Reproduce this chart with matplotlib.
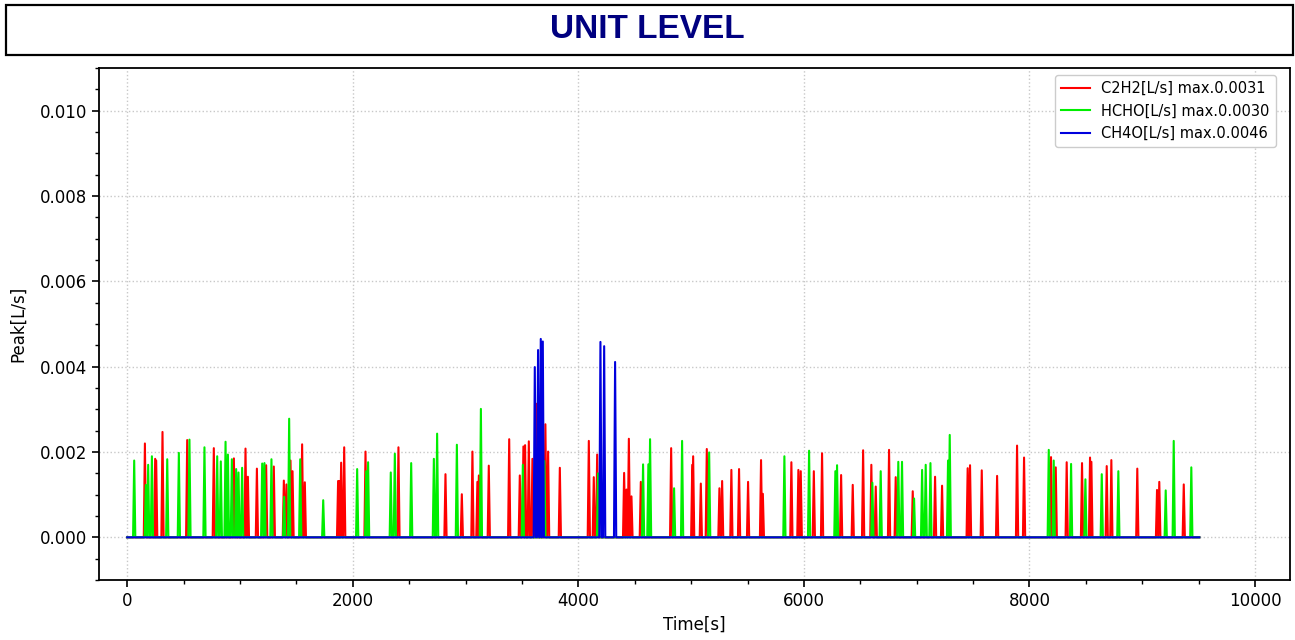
import numpy as np
import matplotlib
matplotlib.use("Agg")
import matplotlib.pyplot as plt
from matplotlib.ticker import AutoMinorLocator, MultipleLocator, FormatStrFormatter
from matplotlib.patches import Rectangle
from matplotlib import font_manager

# Peak events: time [s] and peak flow [L/s]
c2h2_t = [157, 248, 257, 313, 532, 768, 946, 1049, 1070, 1150, 1232, 1300, 1389, 1412,
          1448, 1466, 1551, 1575, 1870, 1880, 1897, 1924, 2113, 2405, 2822, 2967, 3061,
          3105, 3118, 3206, 3387, 3481, 3513, 3528, 3561, 3593, 3628, 3708, 3732, 3836,
          4093, 4137, 4167, 4406, 4427, 4448, 4471, 4554, 4823, 5010, 5018, 5086, 5139,
          5251, 5275, 5357, 5425, 5505, 5620, 5636, 5889, 5951, 5972, 6088, 6161, 6330,
          6433, 6525, 6598, 6637, 6755, 6814, 6965, 7163, 7225, 7452, 7473, 7577, 7713,
          7890, 7952, 8191, 8233, 8330, 8466, 8537, 8549, 8685, 8726, 8956, 9131, 9151,
          9368]
c2h2_v = [0.0022, 0.00184, 0.0018, 0.00247, 0.00228, 0.00209, 0.00185, 0.00208, 0.00142,
          0.00161, 0.00169, 0.00166, 0.00133, 0.00124, 0.0018, 0.00155, 0.00218, 0.00129,
          0.00132, 0.00132, 0.00175, 0.00211, 0.00201, 0.00211, 0.00148, 0.00101, 0.00201,
          0.0013, 0.00145, 0.00168, 0.0023, 0.00145, 0.00213, 0.00216, 0.00225, 0.00184,
          0.00313, 0.00265, 0.00201, 0.00163, 0.00226, 0.00141, 0.00194, 0.00151, 0.00112,
          0.00231, 0.00096, 0.0013, 0.00209, 0.0017, 0.0019, 0.00126, 0.00207, 0.00115,
          0.00132, 0.00158, 0.0016, 0.0013, 0.00181, 0.00102, 0.00176, 0.00158, 0.00155,
          0.00155, 0.00197, 0.00146, 0.00123, 0.00204, 0.0017, 0.00119, 0.00205, 0.00141,
          0.00108, 0.00142, 0.00121, 0.00162, 0.00169, 0.00157, 0.00144, 0.00215, 0.00187,
          0.00188, 0.00164, 0.00176, 0.00174, 0.00187, 0.00177, 0.00167, 0.00181, 0.00161,
          0.00111, 0.0013, 0.00124]

hcho_t = [62, 165, 186, 219, 355, 458, 552, 685, 798, 830, 872, 893, 928, 966, 987, 1019,
          1197, 1217, 1279, 1392, 1436, 1534, 1738, 2039, 2119, 2136, 2337, 2373, 2518,
          2719, 2748, 2923, 3136, 3508, 3699, 4175, 4574, 4621, 4636, 4849, 4920, 5160,
          5827, 6046, 6279, 6294, 6607, 6681, 6837, 6870, 6977, 7048, 7080, 7122, 7278,
          7293, 8171, 8215, 8369, 8496, 8641, 8788, 9208, 9279, 9435]
hcho_v = [0.0018, 0.00123, 0.0017, 0.0019, 0.00183, 0.00198, 0.00229, 0.00211, 0.0019,
          0.00178, 0.00224, 0.00194, 0.00183, 0.0016, 0.00152, 0.00163, 0.00173, 0.00174,
          0.00183, 0.00095, 0.00278, 0.00183, 0.00087, 0.0016, 0.00155, 0.00176, 0.00152,
          0.00196, 0.00174, 0.00184, 0.00243, 0.00217, 0.00301, 0.0017, 0.00179, 0.0015,
          0.00171, 0.00171, 0.0023, 0.00115, 0.00226, 0.00199, 0.0019, 0.00203, 0.00155,
          0.00169, 0.00128, 0.00155, 0.00177, 0.00177, 0.00091, 0.00158, 0.0017, 0.00174,
          0.0018, 0.0024, 0.00205, 0.0018, 0.00172, 0.00136, 0.00148, 0.00155, 0.0011,
          0.00226, 0.00164]

ch4o_t = [3614, 3643, 3667, 3685, 4196, 4229, 4326]
ch4o_v = [0.00399, 0.00439, 0.00465, 0.00459, 0.00458, 0.00448, 0.00411]

t_start, t_end = 0, 9506
half_width = 10


def spike_trace(times, peaks):
    """Zero baseline with a narrow triangular spike at each event."""
    xs, ys = [t_start], [0.0]
    for t, v in sorted(zip(times, peaks)):
        xs += [t - half_width, t, t + half_width]
        ys += [0.0, v, 0.0]
    xs.append(t_end)
    ys.append(0.0)
    return np.array(xs), np.array(ys)


names = {f.name for f in font_manager.fontManager.ttflist}
title_font = "Liberation Sans Narrow" if "Liberation Sans Narrow" in names else "Liberation Sans"

fig = plt.figure(figsize=(12.95, 6.4), dpi=100)
ax = fig.add_axes([99 / 1295, 1 - 580 / 640, (1290 - 99) / 1295, (580 - 68) / 640])

fig.patches.append(Rectangle((6 / 1295, 1 - 55 / 640), 1287 / 1295, 50 / 640,
                             transform=fig.transFigure, fill=False,
                             edgecolor="black", linewidth=1.6))
fig.text(0.5, 1 - 30 / 640, "UNIT LEVEL", ha="center", va="center",
         fontsize=24, fontweight="bold", color="#000080", family=title_font)

series = [
    (c2h2_t, c2h2_v, "#ff0000", "C2H2[L/s] max.{:.4f}"),
    (hcho_t, hcho_v, "#00ee00", "HCHO[L/s] max.{:.4f}"),
    (ch4o_t, ch4o_v, "#0000dd", "CH4O[L/s] max.{:.4f}"),
]
for times, peaks, color, label in series:
    x, y = spike_trace(times, peaks)
    ax.plot(x, y, color=color, linewidth=1.5, label=label.format(max(peaks)))

ax.set_xlim(-250, 10310)
ax.set_ylim(-0.001, 0.011)
ax.xaxis.set_major_locator(MultipleLocator(2000))
ax.yaxis.set_major_locator(MultipleLocator(0.002))
ax.xaxis.set_minor_locator(AutoMinorLocator(4))
ax.yaxis.set_minor_locator(AutoMinorLocator(4))
ax.yaxis.set_major_formatter(FormatStrFormatter("%.3f"))
ax.tick_params(axis="both", which="major", labelsize=12, length=5, width=1.2)
ax.tick_params(axis="both", which="minor", length=3, width=1.0)
for s in ax.spines.values():
    s.set_linewidth(1.3)
ax.grid(True, which="major", linestyle=":", color="#c8c8c8", linewidth=1.0)
ax.set_xlabel("Time[s]", fontsize=12, labelpad=4)
ax.set_ylabel("Peak[L/s]", fontsize=12, labelpad=9)

ax.legend(loc="upper right", bbox_to_anchor=(1 - 7 / 1191, 1), fontsize=10.5,
          frameon=True, framealpha=1.0, edgecolor="#cccccc", handlelength=2.0,
          borderaxespad=0.5)

fig.savefig("out.png", dpi=100, facecolor="white")
